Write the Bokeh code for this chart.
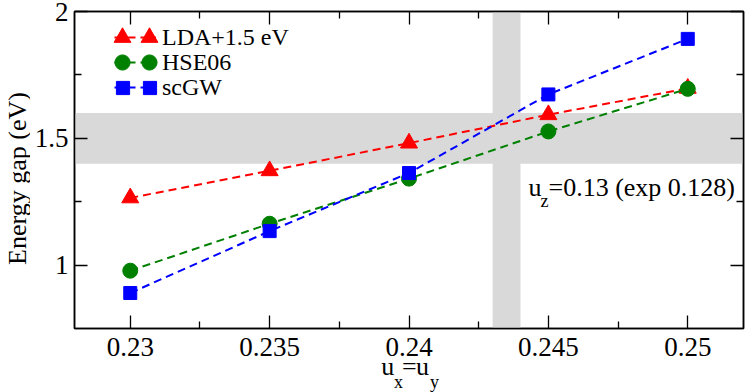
from bokeh.plotting import figure
from bokeh.models import (FixedTicker, LinearAxis, BoxAnnotation, Label, LabelSet,
                          Legend, LegendItem, Range1d, ColumnDataSource)
from bokeh.layouts import row, column
from bokeh.embed import file_html
from bokeh.resources import INLINE

# ---- data ----
x_vals = [0.23, 0.235, 0.24, 0.245, 0.25]
lda = [1.265, 1.372, 1.481, 1.593, 1.697]
hse = [0.978, 1.163, 1.341, 1.527, 1.695]
gw = [0.890, 1.134, 1.363, 1.673, 1.892]

series_names = ["LDA+1.5 eV", "HSE06", "scGW"]
series_vals = [lda, hse, gw]
colors = ["#ff0000", "#008000", "#0000ff"]
markers = ["triangle", "circle", "square"]
marker_sizes = [17, 15, 13]

x_ticks = [0.23, 0.235, 0.24, 0.245, 0.25]
x_tick_labels = ["0.23", "0.235", "0.24", "0.245", "0.25"]
x_minor = [0.2325, 0.2375, 0.2425, 0.2475]
y_ticks = [1.0, 1.5, 2.0]
y_tick_labels = ["1", "1.5", "2"]
y_minor = [1.25, 1.75]

band_x = [0.243, 0.244]
band_y = [1.4, 1.6]

FONT = "Liberation Serif"

x_range = Range1d(0.228, 0.252)
y_range = Range1d(0.75, 2.0)

p = figure(width=717, height=330, x_range=x_range, y_range=y_range,
           output_backend="svg", toolbar_location=None,
           min_border_left=44, min_border_right=4,
           min_border_top=11, min_border_bottom=2)
p.grid.visible = False
p.outline_line_color = "black"
p.outline_line_width = 1.5
p.background_fill_color = "white"
p.border_fill_color = "white"

xt = FixedTicker(ticks=x_ticks, minor_ticks=x_minor)
yt = FixedTicker(ticks=y_ticks, minor_ticks=y_minor)


def style_axis(ax, show_labels=True, standoff=4):
    ax.axis_line_color = "black"
    ax.axis_line_width = 1.5
    ax.major_tick_in = 13
    ax.major_tick_out = 0
    ax.minor_tick_in = 7
    ax.minor_tick_out = 0
    ax.major_tick_line_color = "black"
    ax.minor_tick_line_color = "black"
    ax.major_tick_line_width = 1.3
    ax.minor_tick_line_width = 1.3
    ax.major_label_text_font = FONT
    if show_labels:
        ax.major_label_text_color = "black"
        ax.major_label_text_font_size = "27px"
        ax.major_label_standoff = standoff
    else:
        ax.major_label_text_color = None
        ax.major_label_text_alpha = 0
        ax.major_label_text_font_size = "0px"
        ax.major_label_standoff = 0


p.xaxis.ticker = xt
p.yaxis.ticker = yt
p.yaxis.major_label_overrides = dict(zip(y_ticks, y_tick_labels))
style_axis(p.xaxis[0], False)
style_axis(p.yaxis[0], True, 6)

top_ax = LinearAxis(ticker=xt)
right_ax = LinearAxis(ticker=yt)
style_axis(top_ax, False)
style_axis(right_ax, False)
p.add_layout(top_ax, "above")
p.add_layout(right_ax, "right")

# gray bands
p.add_layout(BoxAnnotation(bottom=band_y[0], top=band_y[1], fill_color="#d9d9d9",
                           fill_alpha=1, line_color=None, level="underlay"))
p.add_layout(BoxAnnotation(left=band_x[0], right=band_x[1], fill_color="#d9d9d9",
                           fill_alpha=1, line_color=None, level="underlay"))

line_rs, mark_rs = [], []
for name, vals, c, m, s in zip(series_names, series_vals, colors, markers, marker_sizes):
    lr = p.line(x_vals, vals, line_color=c, line_width=2, line_dash="8 5")
    mr = p.scatter(x_vals, vals, marker=m, size=s, fill_color=c, line_color=c)
    line_rs.append(lr)
    mark_rs.append(mr)


# legend: one small legend per row and per piece (dashed line, left marker, right marker)
row_bottoms = [272, 247, 222]       # screen px above the frame bottom
legend_glyph = [42, 38, 33]         # glyph box -> marker size in the legend


def make_legend(item, x, y, gw_, gh_, show_text, standoff=6):
    leg = Legend(items=[item], location=(x, y), glyph_width=gw_, glyph_height=gh_,
                 label_height=gh_, spacing=0, padding=0, margin=0,
                 label_standoff=standoff, border_line_color=None,
                 background_fill_alpha=0, label_text_font=FONT,
                 label_text_font_size="24px")
    if show_text:
        leg.label_text_color = "black"
    else:
        leg.label_text_color = None
        leg.label_text_alpha = 0
    return leg


legends = []
for n, lr, yb in zip(series_names, line_rs, row_bottoms):
    legends.append(make_legend(LegendItem(label=n, renderers=[lr]), 40, yb, 42, 38, True))
for i, (mr, yb, g) in enumerate(zip(mark_rs, row_bottoms, legend_glyph)):
    off = (38 - g) // 2
    # hidden labels are parked away from the visible legend text
    sl = 300 + 60 * i - 122 - g // 2
    sr = 325 + 60 * i - 149 - g // 2
    legends.append(make_legend(LegendItem(label=" ", renderers=[mr]), 48 - g // 2, yb + off, g, g, False, sl))
    legends.append(make_legend(LegendItem(label=" ", renderers=[mr]), 75 - g // 2, yb + off, g, g, False, sr))
for lg in legends:
    p.add_layout(lg, "center")


def lab(fig, text, x, y, size, angle=0, align="left", xu="screen", baseline="alphabetic"):
    fig.add_layout(Label(x=x, y=y, x_units=xu, y_units="screen", text=text,
                         text_font=FONT, text_font_size=size, text_color="black",
                         angle=angle, text_align=align, text_baseline=baseline))


# in-plot annotation u_z=0.13 (exp 0.128)
lab(p, "u", 454, 141, "26px")
lab(p, "z", 466, 128, "18px")
lab(p, "=0.13 (exp 0.128)", 474, 141, "26px")

# bottom strip: x tick labels and x axis label u_x=u_y (shares the x range)
xs = figure(width=717, height=62, x_range=x_range, y_range=Range1d(0, 62),
            output_backend="svg", toolbar_location=None,
            x_axis_location=None, y_axis_location=None,
            min_border_left=44, min_border_right=4, min_border_top=0,
            min_border_bottom=0)
xs.grid.visible = False
xs.outline_line_color = None
xs.border_fill_color = "white"
tick_src = ColumnDataSource(dict(x=x_ticks, text=x_tick_labels))
xs.add_layout(LabelSet(x="x", y=37, y_units="screen", text="text", source=tick_src,
                       text_font=FONT, text_font_size="27px", text_color="black",
                       text_align="center", text_baseline="alphabetic"))
lab(xs, "u", 0.23900, 26, "26px", xu="data")
lab(xs, "x", 0.239464, 11, "18px", xu="data")
lab(xs, "=", 0.23975, 26, "26px", xu="data")
lab(xs, "u", 0.24025, 26, "26px", xu="data")
lab(xs, "y", 0.24075, 11, "18px", xu="data")

# left strip: y axis label
ylab = figure(width=30, height=392, x_range=Range1d(0, 30), y_range=Range1d(0, 392),
              output_backend="svg", toolbar_location=None,
              x_axis_location=None, y_axis_location=None,
              min_border_left=0, min_border_right=0, min_border_top=0,
              min_border_bottom=0)
ylab.grid.visible = False
ylab.outline_line_color = None
ylab.border_fill_color = "white"
lab(ylab, "Energy gap (eV)", 17, 214, "26px", angle=1.5707963, align="center")

layout = row(ylab, column(p, xs, spacing=0), spacing=0)

open("out.html", "w").write(file_html(layout, INLINE))
